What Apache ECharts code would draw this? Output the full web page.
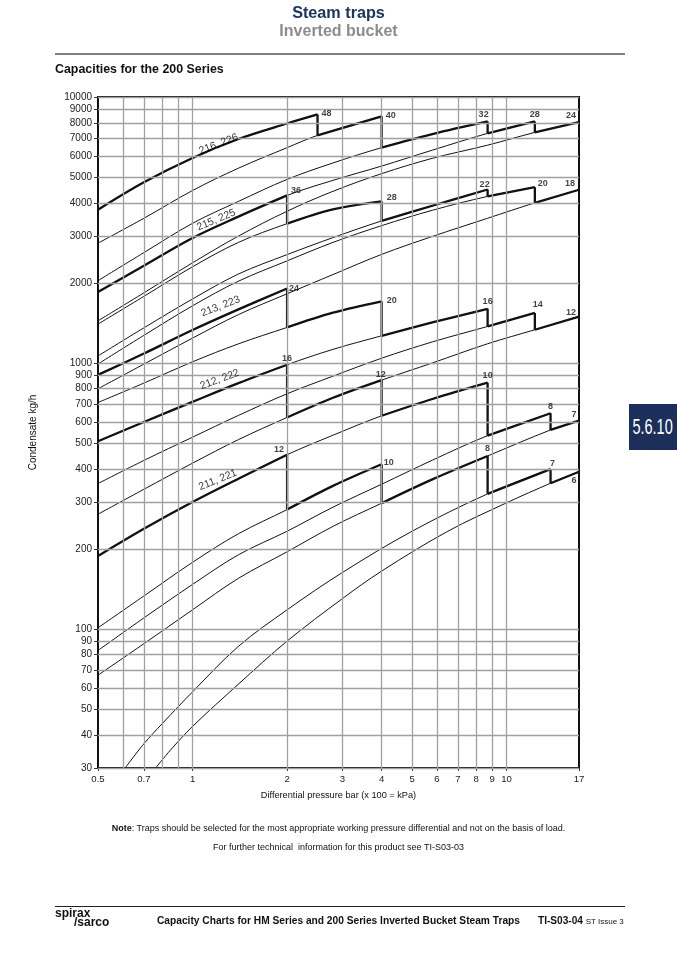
<!DOCTYPE html>
<html lang="en">

<head>
    <meta charset="UTF-8">
    <title>Capacities for the 200 Series</title>
    <style type="text/css">
    body,
    html {
        width: 677px;
        height: 958px;
        margin: 0;
        padding: 0;
        background: #fff;
        overflow: hidden;
        font-family: "Liberation Sans", Arial, sans-serif;
    }

    #page {
        position: relative;
        width: 677px;
        height: 958px;
    }

    #chart {
        position: absolute;
        left: 0;
        top: 0;
        width: 677px;
        height: 958px;
    }

    .abs {
        position: absolute;
        white-space: nowrap;
    }

    .title1 {
        left: 0;
        width: 677px;
        top: 3px;
        text-align: center;
        font-size: 16.2px;
        font-weight: bold;
        color: #1d3461;
    }

    .title2 {
        left: 0;
        width: 677px;
        top: 22px;
        text-align: center;
        font-size: 16px;
        font-weight: bold;
        color: #8c8c8c;
    }

    .rule1 {
        left: 55px;
        top: 53px;
        width: 570px;
        border-top: 2px solid #808080;
    }

    .sub {
        left: 55px;
        top: 62px;
        font-size: 12.4px;
        font-weight: bold;
        color: #111;
    }

    .note {
        left: 0;
        width: 677px;
        text-align: center;
        font-size: 9px;
        color: #111;
    }

    .rule2 {
        left: 55px;
        top: 906px;
        width: 570px;
        border-top: 1px solid #222;
    }

    .logo1 {
        left: 55px;
        top: 906px;
        font-size: 12px;
        font-weight: bold;
        color: #111;
    }

    .logo2 {
        left: 74px;
        top: 915px;
        font-size: 12px;
        font-weight: bold;
        color: #111;
    }

    .foot {
        left: 157px;
        top: 915px;
        font-size: 10.2px;
        font-weight: bold;
        color: #111;
    }

    .foot2 {
        left: 538px;
        top: 915px;
        font-size: 10.1px;
        font-weight: bold;
        color: #111;
    }

    .foot2 span {
        font-size: 8px;
        font-weight: normal;
    }

    .tab {
        left: 629px;
        top: 404px;
        width: 48px;
        height: 46px;
        background: #1c2f5a;
        color: #fff;
        font-size: 22px;
        line-height: 46px;
        text-align: center;
        overflow: hidden;
    }

    .tab span {
        display: inline-block;
        transform: scaleX(0.66);
        transform-origin: center;
        margin-left: -20px;
        margin-right: -20px;
    }
    </style>
</head>

<body>
    <div id='page'>
        <div id='chart'></div>
        <div class='abs title1'>Steam traps</div>
        <div class='abs title2'>Inverted bucket</div>
        <div class='abs rule1'></div>
        <div class='abs sub'>Capacities for the 200 Series</div>
        <div class='abs tab'><span>5.6.10</span></div>
        <div class='abs note' style='top:823px;'><b>Note</b>: Traps should be selected for the most appropriate working pressure differential and not on the basis of load.</div>
        <div class='abs note' style='top:842px;'>For further technical &nbsp;information for this product see TI-S03-03</div>
        <div class='abs rule2'></div>
        <div class='abs logo1'>spirax</div>
        <div class='abs logo2'>/sarco</div>
        <div class='abs foot'>Capacity Charts for HM Series and 200 Series Inverted Bucket Steam Traps</div>
        <div class='abs foot2'>TI-S03-04 <span>ST Issue 3</span></div>
    </div>
    <script src="https://cdn.jsdelivr.net/npm/echarts@6/dist/echarts.min.js"></script>
    <script type="text/javascript">

    // orifice curves: [differential pressure bar, condensate kg/h]
    var curveA1 = [[0.5, 3770], [0.7, 4780], [1, 5900], [1.4, 6950], [2, 7950], [2.5, 8600]];
    var curveA2 = [[0.5, 2821], [0.7, 3500], [1, 4450], [1.4, 5400], [2, 6450], [2.5, 7170], [4, 8460]];
    var curveA3 = [[0.5, 2038], [0.7, 2600], [1, 3350], [1.4, 4050], [2, 4900], [2.8, 5650], [4, 6450], [5.8, 7250], [8.7, 8090]];
    var curveB1A4 = [[0.5, 1850], [0.7, 2320], [1, 2950], [1.4, 3550], [2, 4265], [2.8, 4860], [4, 5500], [5.8, 6310], [8.7, 7300], [12.3, 8090]];
    var curveA5 = [[0.5, 1440], [0.7, 1835], [1, 2380], [1.4, 3000], [2, 3720], [2.8, 4420], [4, 5150], [5.8, 5880], [8.7, 6590], [12.3, 7360], [17, 8050]];
    var curveB2 = [[0.5, 1400], [0.7, 1780], [1, 2300], [1.4, 2840], [2, 3340], [2.8, 3780], [4, 4053]];
    var curveB3 = [[0.5, 1063], [0.7, 1355], [1, 1740], [1.4, 2160], [2, 2555], [2.8, 2960], [4, 3420], [5.8, 3900], [8.7, 4490]];
    var curveB4 = [[0.5, 991], [0.7, 1270], [1, 1640], [1.4, 2030], [2, 2420], [2.8, 2840], [4, 3283], [5.8, 3750], [8.7, 4230], [12.3, 4580]];
    var curveB5 = [[0.5, 800], [0.7, 990], [1, 1240], [1.4, 1520], [2, 1820], [2.8, 2150], [4, 2560], [5.8, 2990], [8.7, 3500], [12.3, 4000], [17, 4480]];
    var curveC1 = [[0.5, 902], [0.7, 1085], [1, 1330], [1.4, 1590], [2, 1905]];
    var curveC2 = [[0.5, 710], [0.7, 840], [1, 1010], [1.4, 1180], [2, 1360], [2.8, 1545], [4, 1705]];
    var curveD1C3 = [[0.5, 508], [0.7, 600], [1, 714], [1.4, 840], [2, 985], [2.8, 1125], [4, 1265], [5.8, 1420], [8.7, 1598]];
    var curveC4 = [[0.5, 352], [0.7, 430], [1, 526], [1.4, 635], [2, 766], [2.8, 892], [4, 1042], [5.8, 1200], [8.7, 1372], [12.3, 1542]];
    var curveD2C5 = [[0.5, 270], [0.7, 335], [1, 420], [1.4, 515], [2, 624], [2.8, 740], [4, 862], [5.8, 1000], [8.7, 1181], [12.3, 1333], [17, 1494]];
    var curveE1D3 = [[0.5, 188], [0.7, 238], [1, 300], [1.4, 367], [2, 452], [2.8, 535], [4, 633], [5.8, 732], [8.7, 843]];
    var curveE2 = [[0.5, 101], [0.7, 133], [1, 178], [1.4, 228], [2, 281], [2.8, 345], [4, 416]];
    var curveD4 = [[0.5, 83], [0.7, 110], [1, 147], [1.4, 190], [2, 233], [2.8, 287], [4, 350], [5.8, 431], [8.7, 533], [13.8, 647]];
    var curveE3D5 = [[0.5, 67], [0.7, 88], [1, 118], [1.4, 155], [2, 195], [2.8, 243], [4, 297], [5.8, 365], [8.7, 447], [13.8, 560], [17, 607]];
    var curveE4 = [[0.61, 30], [0.7, 37], [0.8, 44], [1, 58], [1.4, 86], [2, 118], [3, 163], [5, 233], [8.7, 322], [13.8, 399]];
    var curveE5 = [[0.763, 30], [0.85, 35], [1, 43], [1.4, 62], [2, 90], [3, 130], [4, 165], [6.5, 233], [10, 298], [13.8, 353], [17, 390]];

    var curves = {
        A1: curveA1, A2: curveA2, A3: curveA3, B1A4: curveB1A4, A5: curveA5,
        B2: curveB2, B3: curveB3, B4: curveB4, B5: curveB5,
        C1: curveC1, C2: curveC2, D1C3: curveD1C3, C4: curveC4, D2C5: curveD2C5,
        E1D3: curveE1D3, E2: curveE2, D4: curveD4, E3D5: curveE3D5, E4: curveE4, E5: curveE5
    };

    // each model: which curve it runs on, from / to pressure, and the figure at the step
    var model216 = [['A1', 0.5, 2.5, '48'], ['A2', 2.5, 4, '40'], ['A3', 4, 8.7, '32'], ['B1A4', 8.7, 12.3, '28'], ['A5', 12.3, 17, '24']];
    var model215 = [['B1A4', 0.5, 2, '36'], ['B2', 2, 4, '28'], ['B3', 4, 8.7, '22'], ['B4', 8.7, 12.3, '20'], ['B5', 12.3, 17, '18']];
    var model213 = [['C1', 0.5, 2, '24'], ['C2', 2, 4, '20'], ['D1C3', 4, 8.7, '16'], ['C4', 8.7, 12.3, '14'], ['D2C5', 12.3, 17, '12']];
    var model212 = [['D1C3', 0.5, 2, '16'], ['D2C5', 2, 4, '12'], ['E1D3', 4, 8.7, '10'], ['D4', 8.7, 13.8, '8'], ['E3D5', 13.8, 17, '7']];
    var model211 = [['E1D3', 0.5, 2, '12'], ['E2', 2, 4, '10'], ['E3D5', 4, 8.7, '8'], ['E4', 8.7, 13.8, '7'], ['E5', 13.8, 17, '6']];

    var modelNames = ['216, 226', '215, 225', '213, 223', '212, 222', '211, 221'];
    var modelNameAt = [[1.21, 6650], [1.19, 3450], [1.228, 1632], [1.22, 867], [1.204, 363]];

    var xTicks = [0.5, 0.7, 1, 2, 3, 4, 5, 6, 7, 8, 9, 10, 17];
    var xGrid = [0.6, 0.7, 0.8, 0.9, 1, 2, 3, 4, 5, 6, 7, 8, 9, 10];
    var yTicks = [30, 40, 50, 60, 70, 80, 90, 100, 200, 300, 400, 500, 600, 700, 800, 900,
        1000, 2000, 3000, 4000, 5000, 6000, 7000, 8000, 9000, 10000];

    // pixel nudges for the step figures, per model
    var figOffsets = [
        [[9, -1], [9, -1], [-4, -7], [0, -7], [-8, -7]],
        [[9, -5], [10, -4], [-3, -5], [8, -4], [-9, -6]],
        [[7, 0], [10, -1], [0, -7], [3, -8], [-8, -4]],
        [[0, -6], [-1, -6], [0, -7], [0, -7], [-5, -6]],
        [[-8, -5], [7, -2], [0, -7], [2, -6], [-5, 9]]
    ];
    var nameRotate = [21, 23, 21, 20, 22];

    var models = [model216, model215, model213, model212, model211];

    var chart = echarts.init(document.getElementById('chart'));

    function pick(curve, from, to) {
        return curve.filter(function(d) {
            return d[0] >= from - 1e-9 && d[0] <= to + 1e-9;
        });
    }

    function valueAt(curve, p) {
        for (var i = 0; i < curve.length; i++) {
            if (Math.abs(curve[i][0] - p) < 1e-9) return curve[i][1];
        }
        return null;
    }

    function fmt(v) {
        return String(+Number(v).toPrecision(6));
    }

    var series = [];

    // grid lines
    series.push({
        type: 'line',
        data: [],
        silent: true,
        z: 1,
        markLine: {
            silent: true,
            animation: false,
            symbol: ['none', 'none'],
            label: { show: false },
            lineStyle: { color: '#a0a0a0', width: 1.3, type: 'solid' },
            data: xGrid.map(function(v) { return { xAxis: v }; })
                .concat(yTicks.map(function(v) { return { yAxis: v }; }))
        }
    });

    // thin orifice curves
    for (var k in curves) {
        series.push({
            type: 'line',
            data: curves[k],
            smooth: 0.35,
            symbol: 'none',
            silent: true,
            z: 3,
            lineStyle: { color: '#111', width: 1 }
        });
    }

    var figData = [];
    models.forEach(function(steps, mi) {
        var drops = [];
        steps.forEach(function(s, i) {
            series.push({
                type: 'line',
                data: pick(curves[s[0]], s[1], s[2]),
                smooth: 0.35,
                symbol: 'none',
                silent: true,
                z: 4,
                lineStyle: { color: '#111', width: 2.3 }
            });
            var top = valueAt(curves[s[0]], s[2]);
            if (i < steps.length - 1) {
                var bottom = valueAt(curves[steps[i + 1][0]], s[2]);
                drops.push([s[2], top], [s[2], bottom], [s[2], '-']);
            }
            figData.push({
                value: [s[2], top],
                label: { formatter: s[3], offset: figOffsets[mi][i] }
            });
        });
        series.push({
            type: 'line',
            data: drops,
            symbol: 'none',
            silent: true,
            z: 4,
            lineStyle: { color: '#111', width: 2.3 }
        });
    });

    // step figures
    series.push({
        type: 'scatter',
        data: figData,
        symbolSize: 1,
        silent: true,
        z: 5,
        itemStyle: { color: 'rgba(0,0,0,0)' },
        label: {
            show: true,
            position: 'inside',
            color: '#111',
            fontSize: 9,
            fontWeight: 'bold',
            fontFamily: 'Liberation Sans'
        }
    });

    // model names along the curves
    series.push({
        type: 'scatter',
        data: modelNames.map(function(n, i) {
            return {
                value: modelNameAt[i],
                label: { formatter: n, rotate: nameRotate[i] }
            };
        }),
        symbolSize: 1,
        silent: true,
        z: 5,
        itemStyle: { color: 'rgba(0,0,0,0)' },
        label: {
            show: true,
            position: 'inside',
            color: '#000',
            fontSize: 10.5,
            fontFamily: 'Liberation Sans'
        }
    });

    var option = {
        animation: false,
        backgroundColor: 'transparent',
        grid: {
            left: 98,
            top: 97,
            width: 481,
            height: 671,
            show: true,
            borderColor: '#111',
            borderWidth: 2,
            backgroundColor: 'transparent'
        },
        xAxis: {
            type: 'log',
            logBase: 10,
            min: 0.5,
            max: 17,
            name: 'Differential pressure bar (x 100 = kPa)',
            nameLocation: 'middle',
            nameGap: 23,
            nameTextStyle: { color: '#111', fontSize: 9.2, fontFamily: 'Liberation Sans' },
            axisLine: { show: true, lineStyle: { color: '#111', width: 2 } },
            axisTick: { show: true, customValues: xTicks, length: 3, lineStyle: { color: '#333' } },
            axisLabel: {
                customValues: xTicks,
                color: '#222',
                fontSize: 9.6,
                margin: 6,
                fontFamily: 'Liberation Sans',
                formatter: fmt
            },
            splitLine: { show: false },
            minorSplitLine: { show: false }
        },
        yAxis: {
            type: 'log',
            logBase: 10,
            min: 30,
            max: 10000,
            name: 'Condensate kg/h',
            nameLocation: 'middle',
            nameGap: 60,
            nameTextStyle: { color: '#111', fontSize: 10, fontFamily: 'Liberation Sans' },
            axisLine: { show: true, lineStyle: { color: '#111', width: 2 } },
            axisTick: { show: true, customValues: yTicks, length: 4, lineStyle: { color: '#333' } },
            axisLabel: {
                customValues: yTicks,
                color: '#222',
                fontSize: 10,
                margin: 6,
                fontFamily: 'Liberation Sans',
                formatter: fmt
            },
            splitLine: { show: false },
            minorSplitLine: { show: false }
        },
        series: series
    };

    chart.setOption(option);
    </script>
</body>

</html>
